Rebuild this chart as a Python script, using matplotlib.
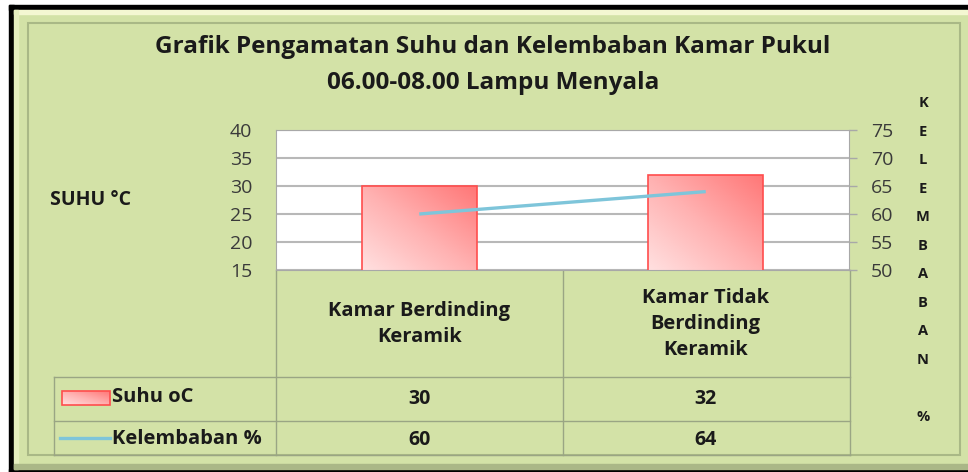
import numpy as np
import matplotlib.pyplot as plt
from matplotlib.colors import LinearSegmentedColormap
from matplotlib.patches import Rectangle

categories = ['Kamar Berdinding\nKeramik', 'Kamar Tidak\nBerdinding\nKeramik']
suhu = [30, 32]
kelembaban = [60, 64]
series_names = ['Suhu oC', 'Kelembaban %']
suhu_ticks = [15, 20, 25, 30, 35, 40]
lembab_ticks = [50, 55, 60, 65, 70, 75]
title = 'Grafik Pengamatan Suhu dan Kelembaban Kamar Pukul\n06.00-08.00 Lampu Menyala'

plt.rcParams['font.family'] = ['Open Sans', 'DejaVu Sans']

W, H = 968, 472
green = '#d3e2a7'
fig = plt.figure(figsize=(W / 100, H / 100), dpi=100)
fig.patch.set_facecolor(green)

# background / frame, in pixel coords
bg = fig.add_axes([0, 0, 1, 1], zorder=0)
bg.axis('off')
bg.add_patch(Rectangle((0, 0), W, 5, color='white', zorder=1))
bg.add_patch(Rectangle((0, 0), 9, H, color='white', zorder=1))
bg.add_patch(Rectangle((9, 5), W, 5, color='black', zorder=1))
bg.add_patch(Rectangle((9, 5), 5, H, color='black', zorder=1))
bg.add_patch(Rectangle((9, 469), W, 5, color='black', zorder=1))
bg.add_patch(Rectangle((14, 10), W, 4, color='#f4f7d2', zorder=1))
bg.add_patch(Rectangle((14, 10), 4, 459, color='#e4edbf', zorder=1))
bg.add_patch(Rectangle((14, 464), W, 5, color='#aab787', zorder=1))
bg.add_patch(Rectangle((28, 23), 932, 432, fill=False, ec='#a9b886', lw=1.5, zorder=1))

pink = LinearSegmentedColormap.from_list('pink', ['#ffe0e0', '#ffb0b0', '#ff7777'])
gx, gy = np.meshgrid(np.linspace(0, 1, 64), np.linspace(0, 1, 64))
grad = (gx + gy) / 2

# chart
L, R, T, B = 276, 849, 130, 270
ax = fig.add_axes([L / W, 1 - B / H, (R - L) / W, (B - T) / H], zorder=1)
ax.set_facecolor('white')
x = np.arange(len(suhu))
bars = ax.bar(x, suhu, width=0.4, facecolor='none', edgecolor='#ff4d4d', lw=1.2, zorder=3)
for bar in bars:
    bx, bw, bh = bar.get_x(), bar.get_width(), bar.get_height()
    im = ax.imshow(grad, cmap=pink, origin='lower', aspect='auto',
                   extent=(bx, bx + bw, 15, bh), zorder=2)
    im.set_clip_path(bar)
ax.set_xlim(-0.5, len(suhu) - 0.5)
ax.set_ylim(suhu_ticks[0], suhu_ticks[-1])
ax.set_yticks(suhu_ticks)
ax.set_xticks([])
ax.yaxis.grid(True, color='#b8b8b8', lw=1.5)
ax.set_axisbelow(True)
ax.tick_params(axis='y', length=0, pad=17, labelsize=14, labelcolor='#3a3a3a')
for s in ax.spines.values():
    s.set_color('#a8a8a8')

ax2 = ax.twinx()
ax2.set_zorder(2)
ax2.patch.set_visible(False)
ax2.plot(x, kelembaban, color='#7ec5da', lw=2.4, solid_capstyle='butt')
ax2.set_ylim(lembab_ticks[0], lembab_ticks[-1])
ax2.set_yticks(lembab_ticks)
ax2.tick_params(axis='y', length=6, width=1, color='#a8a8a8', pad=10, labelsize=14, labelcolor='#3a3a3a')
for s in ax2.spines.values():
    s.set_visible(False)

fig.text(493 / W, 1 - 65 / H, title, ha='center', va='center', fontsize=17.5,
         fontweight='bold', linespacing=1.68, color='#1a1a1a')
fig.text(90 / W, 1 - 200 / H, 'SUHU °C', ha='center', va='center', fontsize=14,
         fontweight='bold', color='#1a1a1a')
fig.text(923 / W, 1 - 260 / H, '\n'.join(list('KELEMBABAN') + ['', '%']), ha='center',
         va='center', fontsize=10.5, fontweight='bold', linespacing=2.32, color='#1a1a1a')

# data table
fig.canvas.draw()
cx = [ax.transData.transform((xi, 0))[0] for xi in x]
grid_c = '#9aa584'
for xv in (L, 563, 850):
    bg.plot([xv, xv], [B, 455], color=grid_c, lw=1, zorder=2)
bg.plot([54, 54], [377, 455], color=grid_c, lw=1, zorder=2)
for yv in (377, 421, 455):
    bg.plot([54, 850], [yv, yv], color=grid_c, lw=1, zorder=2)

for c, lab in zip(cx, categories):
    bg.text(c, 324, lab, ha='center', va='center', fontsize=14.5, fontweight='bold',
            linespacing=1.42, color='#1a1a1a')
rows = [(399, suhu), (440, kelembaban)]
for (yv, vals) in rows:
    for c, v in zip(cx, vals):
        bg.text(c, yv, str(v), ha='center', va='center', fontsize=14,
                fontweight='bold', color='#1a1a1a')

leg = Rectangle((62, 391), 48, 14, facecolor='none', edgecolor='#ff4d4d', lw=1.2, zorder=4)
bg.add_patch(leg)
im = bg.imshow(grad, cmap=pink, origin='lower', aspect='auto', extent=(62, 110, 405, 391), zorder=3)
im.set_clip_path(leg)
bg.plot([60, 110], [438, 438], color='#7ec5da', lw=2.4, zorder=3)
bg.text(112, 397, series_names[0], ha='left', va='center', fontsize=14.5,
        fontweight='bold', color='#1a1a1a')
bg.text(112, 439, series_names[1], ha='left', va='center', fontsize=14.5,
        fontweight='bold', color='#1a1a1a')
bg.set_xlim(0, W)
bg.set_ylim(H, 0)

fig.savefig('out.png', dpi=100)
